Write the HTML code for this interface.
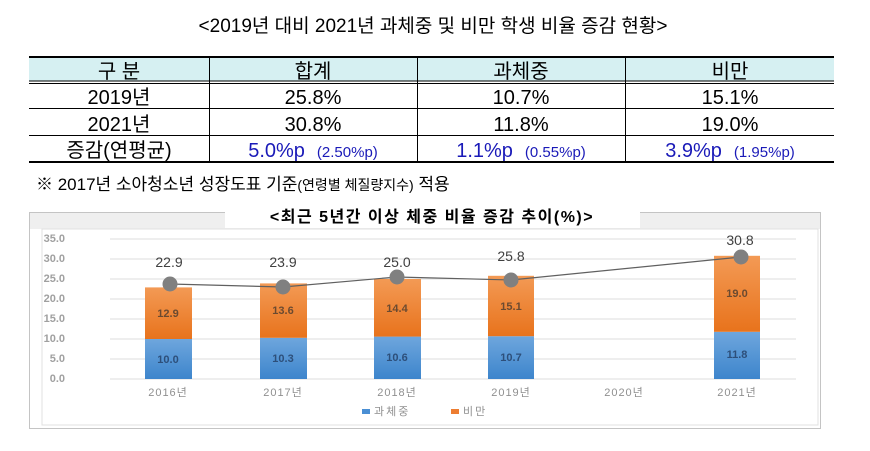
<!DOCTYPE html>
<html><head><meta charset="utf-8"><style>
html,body{margin:0;padding:0;background:#fff;width:870px;height:451px;overflow:hidden}
svg{display:block}
.k{font-family:"Liberation Sans","Noto Sans CJK KR",sans-serif}
</style></head><body>
<svg width="870" height="451" viewBox="0 0 870 451" xmlns="http://www.w3.org/2000/svg" class="k">
<defs>
<linearGradient id="bl" x1="0" y1="0" x2="0" y2="1"><stop offset="0" stop-color="#6ea6dd"/><stop offset="1" stop-color="#3d85cc"/></linearGradient>
<linearGradient id="or" x1="0" y1="0" x2="0" y2="1"><stop offset="0" stop-color="#f39a55"/><stop offset="1" stop-color="#e8731c"/></linearGradient>
</defs>
<text x="433" y="32" font-size="19" text-anchor="middle" fill="#000">&lt;2019년 대비 2021년 과체중 및 비만 학생 비율 증감 현황&gt;</text>
<!-- table -->
<rect x="29" y="57" width="805" height="24" fill="#d6f0f2"/>
<line x1="29" y1="57" x2="834" y2="57" stroke="#000" stroke-width="2"/>
<line x1="29" y1="81" x2="834" y2="81" stroke="#000" stroke-width="1"/>
<line x1="29" y1="83.5" x2="834" y2="83.5" stroke="#000" stroke-width="1"/>
<line x1="29" y1="108.5" x2="834" y2="108.5" stroke="#000" stroke-width="1"/>
<line x1="29" y1="135.5" x2="834" y2="135.5" stroke="#000" stroke-width="1"/>
<line x1="29" y1="162" x2="834" y2="162" stroke="#000" stroke-width="2"/>
<g stroke="#000" stroke-width="1"><line x1="209.5" y1="57" x2="209.5" y2="162"/><line x1="417.5" y1="57" x2="417.5" y2="162"/><line x1="625.5" y1="57" x2="625.5" y2="162"/></g>
<g font-size="20" text-anchor="middle" fill="#000">
<text x="119" y="78">구   분</text><text x="313" y="78">합계</text><text x="521" y="78">과체중</text><text x="730" y="78">비만</text>
<text x="119" y="104">2019년</text><text x="313" y="104">25.8%</text><text x="521" y="104">10.7%</text><text x="730" y="104">15.1%</text>
<text x="119" y="131">2021년</text><text x="313" y="131">30.8%</text><text x="521" y="131">11.8%</text><text x="730" y="131">19.0%</text>
<text x="119" y="157">증감(연평균)</text>
</g>
<g fill="#1a1ab8">
<text x="313" y="157" text-anchor="middle"><tspan font-size="20">5.0%p</tspan><tspan font-size="15" dx="12">(2.50%p)</tspan></text>
<text x="521" y="157" text-anchor="middle"><tspan font-size="20">1.1%p</tspan><tspan font-size="15" dx="12">(0.55%p)</tspan></text>
<text x="730" y="157" text-anchor="middle"><tspan font-size="20">3.9%p</tspan><tspan font-size="15" dx="12">(1.95%p)</tspan></text>
</g>
<text x="36" y="190" font-size="17" fill="#000">※ 2017년 소아청소년 성장도표 기준<tspan font-size="14">(연령별 체질량지수)</tspan> 적용</text>
<!-- chart -->
<rect x="29.5" y="212.5" width="791" height="216" fill="#fff" stroke="#888" stroke-dasharray="1,1"/>
<rect x="30" y="213" width="790" height="16" fill="#efefef"/>
<rect x="42" y="229" width="776" height="196" fill="#fff" stroke="#e0e0e0"/>
<rect x="225" y="205" width="415" height="23" fill="#fff"/>
<text x="432" y="222" font-size="16" font-weight="bold" text-anchor="middle" fill="#000" letter-spacing="1.5">&lt;최근 5년간 이상 체중 비율 증감 추이(%)&gt;</text>
<g stroke="#dedede" stroke-width="1">
<line x1="110" y1="239" x2="796" y2="239"/><line x1="110" y1="259" x2="796" y2="259"/><line x1="110" y1="279" x2="796" y2="279"/><line x1="110" y1="299" x2="796" y2="299"/><line x1="110" y1="319" x2="796" y2="319"/><line x1="110" y1="339" x2="796" y2="339"/><line x1="110" y1="359" x2="796" y2="359"/><line x1="110" y1="379" x2="796" y2="379"/>
</g>
<g font-size="11" fill="#a0a0a0" text-anchor="end" font-weight="bold">
<text x="65" y="242">35.0</text><text x="65" y="262">30.0</text><text x="65" y="282">25.0</text><text x="65" y="302">20.0</text><text x="65" y="322">15.0</text><text x="65" y="342">10.0</text><text x="65" y="362">5.0</text><text x="65" y="382">0.0</text>
</g>
<g>
<rect x="145" y="339" width="47" height="40" fill="url(#bl)"/><rect x="145" y="287.4" width="47" height="51.6" fill="url(#or)"/>
<rect x="260" y="337.8" width="47" height="41.2" fill="url(#bl)"/><rect x="260" y="283.4" width="47" height="54.4" fill="url(#or)"/>
<rect x="374" y="336.6" width="47" height="42.4" fill="url(#bl)"/><rect x="374" y="279" width="47" height="57.6" fill="url(#or)"/>
<rect x="488" y="336.2" width="46" height="42.8" fill="url(#bl)"/><rect x="488" y="275.8" width="46" height="60.4" fill="url(#or)"/>
<rect x="714" y="331.8" width="46" height="47.2" fill="url(#bl)"/><rect x="714" y="255.8" width="46" height="76" fill="url(#or)"/>
</g>
<g font-size="11" font-weight="bold" text-anchor="middle" fill="#6b4a30">
<text x="168" y="317">12.9</text><text x="283" y="314">13.6</text><text x="397" y="312">14.4</text><text x="511" y="310">15.1</text><text x="737" y="297">19.0</text>
</g>
<g font-size="11" font-weight="bold" text-anchor="middle" fill="#2d4f7a">
<text x="168" y="363">10.0</text><text x="283" y="362">10.3</text><text x="397" y="361">10.6</text><text x="511" y="361">10.7</text><text x="737" y="358">11.8</text>
</g>
<polyline points="170,284 283,287 397,277 511,280 741,257" fill="none" stroke="#606060" stroke-width="1.2"/>
<g fill="#808080"><circle cx="170" cy="284" r="7.5"/><circle cx="283" cy="287" r="7.5"/><circle cx="397" cy="277" r="7.5"/><circle cx="511" cy="280" r="7.5"/><circle cx="741" cy="257" r="7.5"/></g>
<g font-size="14" text-anchor="middle" fill="#404040">
<text x="169" y="267">22.9</text><text x="283" y="267">23.9</text><text x="397" y="267">25.0</text><text x="511" y="261">25.8</text><text x="740" y="245">30.8</text>
</g>
<g font-size="11" text-anchor="middle" fill="#909090" letter-spacing="1">
<text x="168" y="396">2016년</text><text x="283" y="396">2017년</text><text x="397" y="396">2018년</text><text x="511" y="396">2019년</text><text x="624" y="396">2020년</text><text x="737" y="396">2021년</text>
</g>
<rect x="362" y="409" width="8" height="5" fill="#4a8fd4"/>
<text x="374" y="415" font-size="11" fill="#909090" letter-spacing="2">과체중</text>
<rect x="451" y="409" width="8" height="5" fill="#ed7d31"/>
<text x="463" y="415" font-size="11" fill="#909090" letter-spacing="2">비만</text>
</svg>
</body></html>
